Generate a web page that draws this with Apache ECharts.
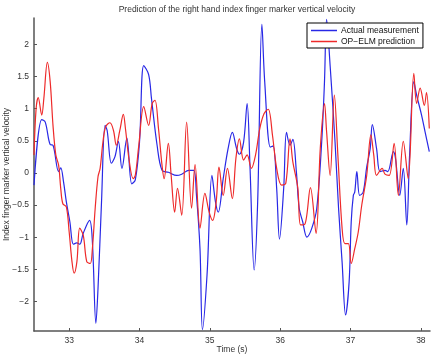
<!DOCTYPE html>
<html>
<head>
<meta charset="utf-8">
<script src="https://cdn.jsdelivr.net/npm/echarts@6/dist/echarts.min.js"></script>
<style>
html, body { margin: 0; padding: 0; background: #fff; }
#chart { width: 433px; height: 354px; }
</style>
</head>
<body>
<div id="chart"></div>
<script>
// values
const xTicks = [33, 34, 35, 36, 37, 38]
const yTicks = [-2, -1.5, -1, -0.5, 0, 0.5, 1, 1.5, 2]

const timeActual = [32.50, 32.61, 32.66, 32.73, 32.77, 32.85, 32.88, 32.92, 32.96, 33.01, 33.06, 33.11, 33.15, 33.20, 33.29, 33.33, 33.38, 33.41, 33.46, 33.51, 33.54, 33.60, 33.65, 33.70, 33.75, 33.82, 33.89, 33.94, 34.00, 34.06, 34.13, 34.17, 34.25, 34.32, 34.41, 34.53, 34.60, 34.70, 34.77, 34.81, 34.86, 34.895, 34.96, 35.03, 35.08, 35.12, 35.19, 35.26, 35.32, 35.38, 35.42, 35.48, 35.53, 35.57, 35.63, 35.68, 35.74, 35.78, 35.86, 35.90, 35.95, 35.99, 36.05, 36.09, 36.14, 36.18, 36.23, 36.27, 36.32, 36.38, 36.45, 36.52, 36.59, 36.63, 36.66, 36.71, 36.78, 36.83, 36.88, 36.93, 36.98, 37.01, 37.04, 37.06, 37.09, 37.13, 37.18, 37.23, 37.28, 37.31, 37.37, 37.42, 37.49, 37.53, 37.61, 37.64, 37.70, 37.75, 37.80, 37.84, 37.90, 37.94, 38.01, 38.06, 38.12]
const actual = [-0.19, 0.83, 0.79, 0.44, 0.43, 0.02, 0.08, -0.14, -0.45, -0.76, -1.11, -1.09, -1.11, -0.94, -0.74, -1.07, -2.34, -1.80, -0.45, 0.74, 0.66, 0.15, 0.25, 0.49, 0.07, 0.54, -0.17, -0.11, 0.48, 1.67, 1.53, 1.16, 0.43, 0.04, 0.01, -0.04, -0.02, 0.04, 0.04, -0.35, -1.18, -2.44, -1.59, -0.04, -0.45, -0.61, -0.09, 0.38, 0.63, 0.38, 0.29, 0.48, 1.08, 0.12, -1.51, -0.45, 2.31, 1.42, 0.40, 0.42, -0.24, -1.03, -0.24, 0.63, 0.43, 0.52, 0.02, -0.55, -0.76, -1.00, -0.86, -0.55, 0.48, 1.42, 2.39, 1.67, 0.48, -0.55, -1.38, -2.21, -1.70, -0.76, -0.35, -0.30, 0.02, -0.35, -0.30, 0.09, 0.38, 0.75, 0.38, 0.02, 0.04, 0.02, 0.33, 0.22, -0.35, 0.07, -0.81, 0.28, 1.42, 1.21, 0.90, 0.64, 0.33]

const timePred = [32.50, 32.53, 32.56, 32.61, 32.64, 32.69, 32.73, 32.77, 32.81, 32.85, 32.88, 32.91, 32.96, 33.00, 33.04, 33.07, 33.11, 33.15, 33.20, 33.25, 33.30, 33.33, 33.37, 33.41, 33.44, 33.48, 33.52, 33.58, 33.63, 33.67, 33.72, 33.77, 33.80, 33.85, 33.91, 33.94, 33.99, 34.06, 34.13, 34.18, 34.22, 34.27, 34.32, 34.35, 34.41, 34.45, 34.50, 34.54, 34.60, 34.67, 34.74, 34.79, 34.86, 34.93, 34.99, 35.04, 35.09, 35.13, 35.19, 35.25, 35.32, 35.37, 35.42, 35.48, 35.53, 35.59, 35.65, 35.71, 35.77, 35.83, 35.89, 35.95, 36.02, 36.08, 36.14, 36.18, 36.25, 36.29, 36.35, 36.43, 36.51, 36.57, 36.63, 36.66, 36.71, 36.77, 36.82, 36.88, 36.92, 36.97, 37.01, 37.06, 37.11, 37.16, 37.23, 37.29, 37.33, 37.37, 37.45, 37.49, 37.55, 37.62, 37.68, 37.75, 37.82, 37.90, 37.94, 37.99, 38.05, 38.08, 38.12]
const pred = [0.28, 1.00, 1.17, 0.90, 1.16, 1.72, 1.42, 0.74, 0.28, 0.12, -0.24, -0.48, -0.53, -0.92, -1.38, -1.56, -1.38, -0.86, -0.97, -1.38, -1.41, -1.18, -0.55, -0.06, 0.07, 0.48, 0.72, 0.78, 0.66, 0.43, 0.66, 0.91, 0.69, 0.22, -0.09, -0.04, 0.43, 1.03, 0.74, 1.08, 1.13, 0.69, 0.12, -0.09, 0.46, -0.04, -0.61, -0.24, -0.66, 0.79, -0.55, 0.13, -0.86, -0.32, -0.61, -0.74, -0.45, 0.09, -0.35, 0.07, -0.40, 0.22, 0.53, 0.20, 0.28, 0.07, 0.28, 0.69, 0.92, 0.99, 0.59, 0.07, -0.19, -0.16, 0.53, 0.17, -0.23, -0.81, -0.80, -0.23, -0.94, 0.38, 1.08, 0.64, -0.04, 1.21, 0.28, -0.86, -1.10, -1.10, -1.41, -1.18, -0.92, -0.50, -0.04, 0.59, 0.28, -0.04, 0.07, -0.02, -0.04, 0.46, -0.35, 0.49, -0.09, 1.55, 1.08, 1.32, 1.05, 1.25, 0.69]

const fontFam = 'Liberation Sans, Arial, sans-serif'
const fmt = v => String(v).replace('-', '\u2212')

let mycharts = echarts.init(document.getElementById('chart'), null, { renderer: 'canvas' })
let option = {
  animation: false,
  backgroundColor: '#fff',
  title: {
    text: 'Prediction of the right hand index finger marker vertical velocity',
    left: 232,
    textAlign: 'center',
    top: 0,
    textStyle: { fontSize: 8.5, fontWeight: 'normal', color: '#333', fontFamily: fontFam }
  },
  legend: {
    orient: 'vertical',
    left: 307,
    top: 23,
    width: 110,
    padding: [3, 4, 2, 4],
    itemGap: 2,
    itemWidth: 26,
    itemHeight: 1.5,
    icon: 'rect',
    borderColor: '#000',
    borderWidth: 1,
    backgroundColor: '#fff',
    textStyle: { fontSize: 8.5, color: '#111', fontFamily: fontFam, padding: [0, 0, 0, -1] },
    data: ['Actual measurement', 'OP\u2212ELM prediction']
  },
  grid: { left: 34, right: 3, top: 18, bottom: 23, containLabel: false, outerBoundsMode: 'none' },
  xAxis: {
    type: 'value',
    min: 32.5,
    max: 38.13,
    name: 'Time (s)',
    nameLocation: 'middle',
    nameGap: 14,
    nameMoveOverlap: false,
    nameTextStyle: { fontSize: 8.5, color: '#333', fontFamily: fontFam },
    axisLine: { show: true, onZero: false, lineStyle: { color: '#555', width: 1.5 } },
    axisTick: { show: true, inside: true, length: 3, customValues: xTicks, lineStyle: { color: '#555' } },
    axisLabel: { customValues: xTicks, fontSize: 8.5, color: '#333', margin: 5, fontFamily: fontFam },
    splitLine: { show: false }
  },
  yAxis: {
    type: 'value',
    min: -2.46,
    max: 2.41,
    name: 'Index finger marker vertical velocity',
    nameLocation: 'middle',
    nameGap: 23,
    nameMoveOverlap: false,
    nameTextStyle: { fontSize: 8.5, color: '#333', fontFamily: fontFam },
    axisLine: { show: true, onZero: false, lineStyle: { color: '#555', width: 1.5 } },
    axisTick: { show: true, inside: true, length: 3, customValues: yTicks, lineStyle: { color: '#555' } },
    axisLabel: { customValues: yTicks, fontSize: 8.5, color: '#333', margin: 5, fontFamily: fontFam, formatter: fmt },
    splitLine: { show: false }
  },
  series: [
    {
      name: 'Actual measurement',
      type: 'line',
      data: timeActual.map((t, i) => [t, actual[i]]),
      smooth: 0.35,
      showSymbol: false,
      lineStyle: { color: '#2828e6', width: 1.2 },
      itemStyle: { color: '#2828e6' }
    },
    {
      name: 'OP\u2212ELM prediction',
      type: 'line',
      data: timePred.map((t, i) => [t, pred[i]]),
      smooth: 0.35,
      showSymbol: false,
      lineStyle: { color: '#ee2a2a', width: 1.2 },
      itemStyle: { color: '#ee2a2a' }
    }
  ]
}
mycharts.setOption(option)
window.addEventListener('resize', function() {
  mycharts.resize()
})
</script>
</body>
</html>
